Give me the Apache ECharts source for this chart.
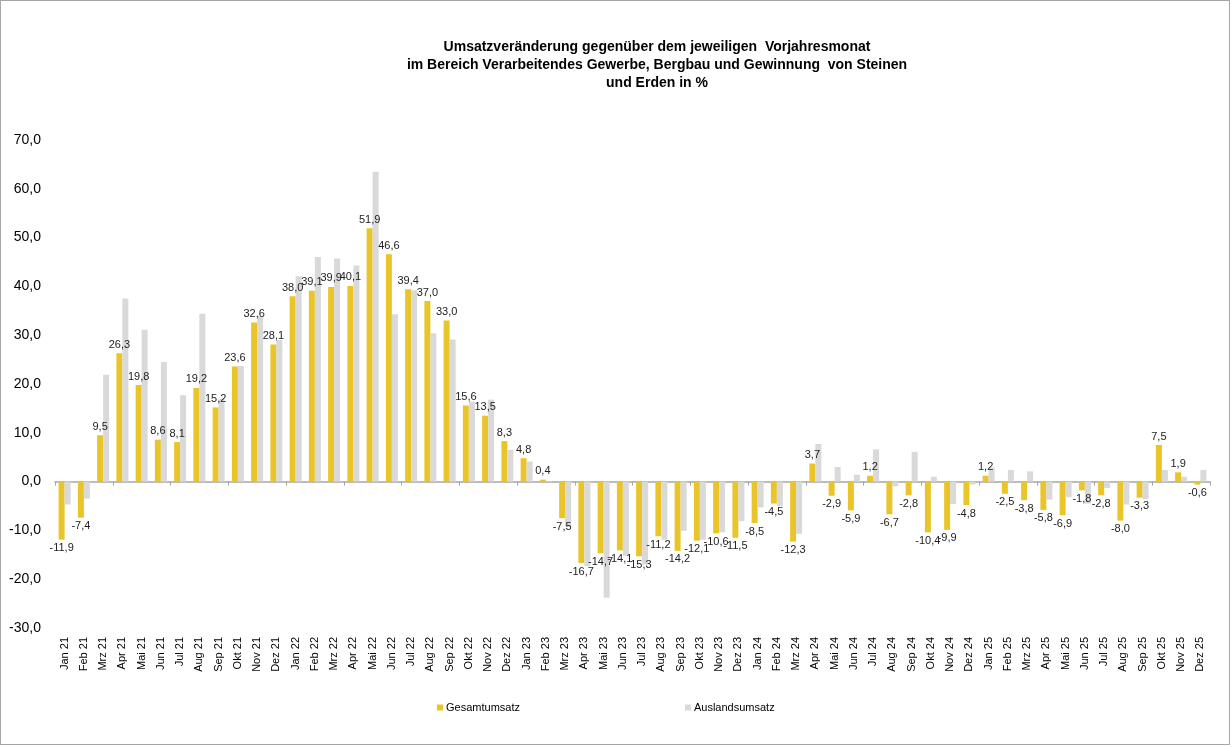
<!DOCTYPE html>
<html>
<head>
<meta charset="utf-8">
<script src="https://cdn.jsdelivr.net/npm/echarts@6/dist/echarts.min.js"></script>
<style>
  html, body { margin: 0; padding: 0; background: #fff; }
  #chart { width: 1228px; height: 743px; border: 1px solid #a6a6a6; }
</style>
</head>
<body>
<div id="chart"></div>
<script>
// Monate Jan 21 - Dez 25
const months = ["Jan", "Feb", "Mrz", "Apr", "Mai", "Jun", "Jul", "Aug", "Sep", "Okt", "Nov", "Dez"];
const years = ["21", "22", "23", "24", "25"];
const categories = [];
years.forEach(function (y) {
  months.forEach(function (m) { categories.push(m + " " + y); });
});

// Gesamtumsatz (beschriftet)
const gesamt = [
  -11.9, -7.4, 9.5, 26.3, 19.8, 8.6, 8.1, 19.2, 15.2, 23.6, 32.6, 28.1,
  38.0, 39.1, 39.9, 40.1, 51.9, 46.6, 39.4, 37.0, 33.0, 15.6, 13.5, 8.3,
  4.8, 0.4, -7.5, -16.7, -14.7, -14.1, -15.3, -11.2, -14.2, -12.1, -10.6, -11.5,
  -8.5, -4.5, -12.3, 3.7, -2.9, -5.9, 1.2, -6.7, -2.8, -10.4, -9.9, -4.8,
  1.2, -2.5, -3.8, -5.8, -6.9, -1.8, -2.8, -8.0, -3.3, 7.5, 1.9, -0.6
];

// Auslandsumsatz (aus der Grafik geschätzt)
const ausland = [
  -4.7, -3.5, 21.9, 37.5, 31.1, 24.5, 17.7, 34.4, 17.0, 23.7, 33.9, 29.0,
  42.1, 46.0, 45.7, 44.3, 63.5, 34.3, 39.2, 30.4, 29.1, 16.4, 16.8, 6.5,
  4.1, 0.1, -9.3, -17.3, -23.8, -15.2, -17.0, -11.9, -10.1, -11.9, -10.4, -8.1,
  -5.3, -5.0, -10.7, 7.7, 3.0, 1.4, 6.6, -1.0, 6.1, 1.0, -4.6, -0.6,
  2.9, 2.4, 2.1, -3.7, -3.2, -4.5, -1.3, -4.7, -3.6, 2.4, 1.0, 2.4
];

function fmt(v) {
  return v.toFixed(1).replace(".", ",");
}

const chart = echarts.init(document.getElementById("chart"));
chart.setOption({
  animation: false,
  textStyle: { fontFamily: "Liberation Sans, Arial, sans-serif" },
  title: {
    text: "Umsatzveränderung gegenüber dem jeweiligen  Vorjahresmonat\nim Bereich Verarbeitendes Gewerbe, Bergbau und Gewinnung  von Steinen\nund Erden in %",
    left: 651,
    top: 32,
    textAlign: "center",
    textStyle: { fontSize: 14, fontWeight: "bold", color: "#000", lineHeight: 18 }
  },
  legend: {
    left: 431,
    top: 696,
    itemWidth: 6,
    itemHeight: 6,
    itemGap: 165,
    icon: "rect",
    textStyle: { fontSize: 11, color: "#000", padding: [0, 0, 0, -2] },
    data: ["Gesamtumsatz", "Auslandsumsatz"]
  },
  grid: { left: 54, right: 19, top: 139, bottom: 116 },
  xAxis: [
    {
      type: "category",
      data: categories,
      position: "bottom",
      axisLine: { show: false, onZero: false },
      axisTick: { show: false },
      axisLabel: { interval: 0, rotate: 90, fontSize: 11, color: "#000", margin: 9 }
    },
    {
      type: "category",
      data: categories,
      position: "bottom",
      axisLine: { show: true, onZero: true, lineStyle: { color: "#a6a6a6", width: 1.5 } },
      axisTick: { show: true, length: 4, lineStyle: { color: "#a6a6a6" } },
      axisLabel: { show: false }
    }
  ],
  yAxis: {
    type: "value",
    min: -30,
    max: 70,
    interval: 10,
    axisLine: { show: false },
    axisTick: { show: false },
    splitLine: { show: false },
    axisLabel: { fontSize: 14, color: "#000", margin: 14, formatter: fmt }
  },
  series: [
    {
      name: "Gesamtumsatz",
      type: "bar",
      xAxisIndex: 0,
      barWidth: 6,
      barGap: "0%",
      itemStyle: { color: "#E9C52A" },
      label: {
        show: true,
        fontSize: 11,
        color: "#222",
        distance: 3,
        formatter: function (p) { return fmt(p.value); }
      },
      data: gesamt.map(function (v) {
        return { value: v, label: { position: v < 0 ? "bottom" : "top" } };
      })
    },
    {
      name: "Auslandsumsatz",
      type: "bar",
      xAxisIndex: 0,
      barWidth: 6,
      barGap: "0%",
      itemStyle: { color: "#D9D9D9" },
      data: ausland
    }
  ]
});
</script>
</body>
</html>
